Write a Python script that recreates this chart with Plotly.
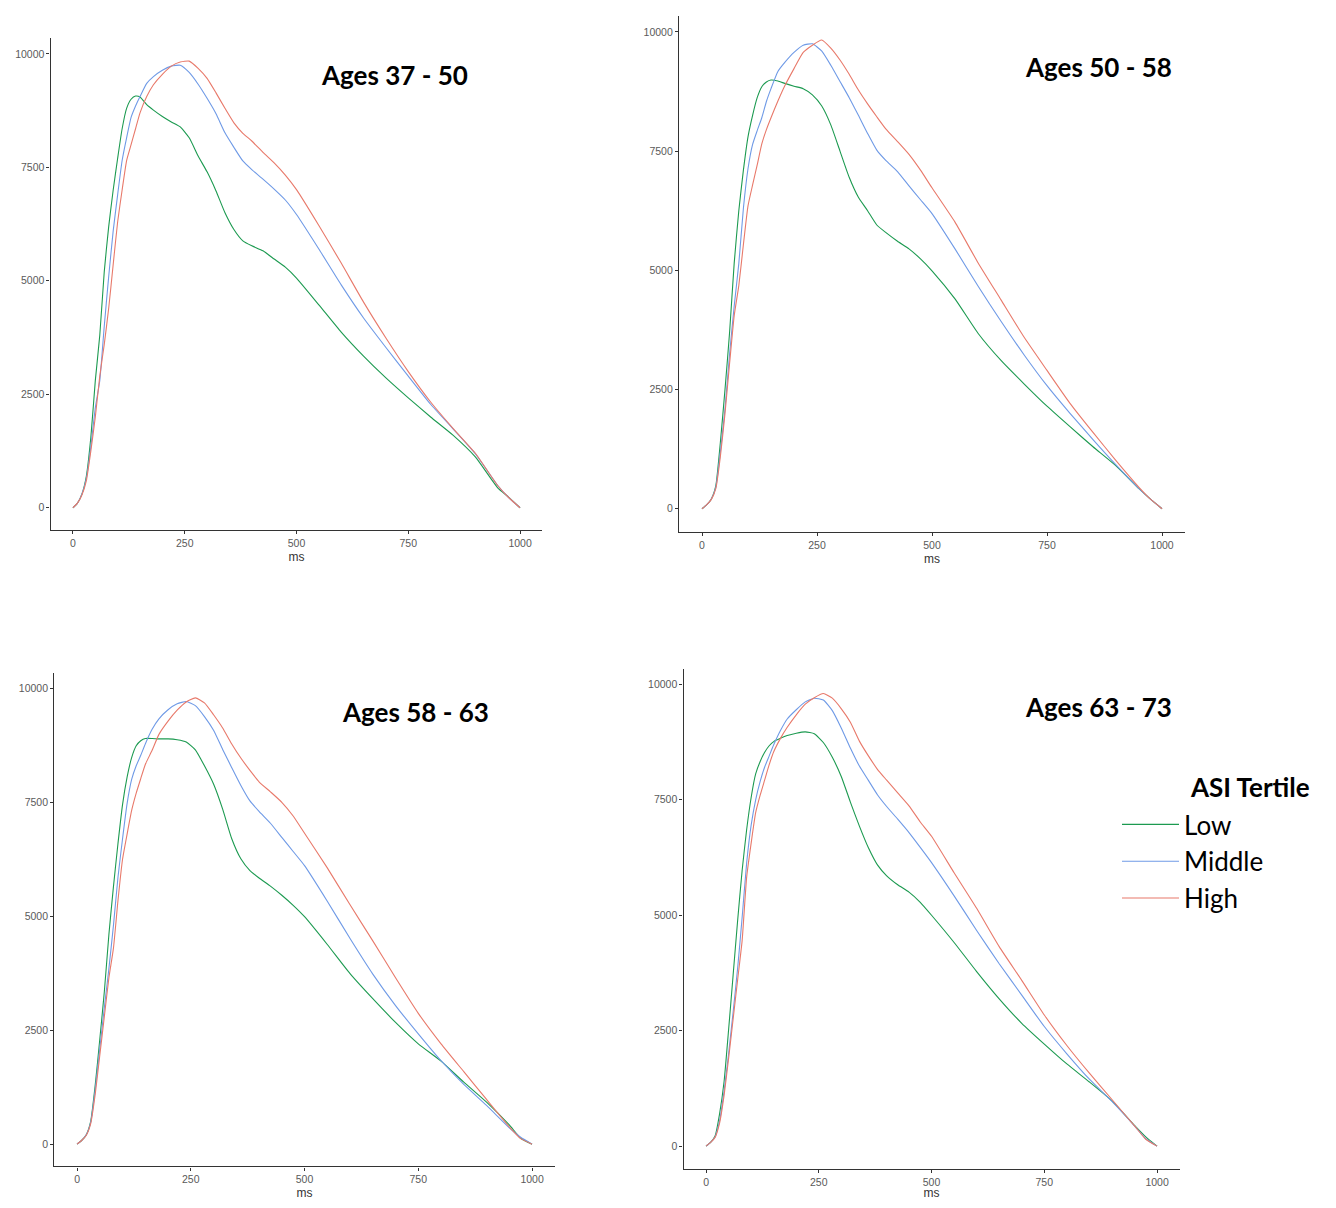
import plotly.graph_objects as go

# ---------------- data ----------------
ms = [0, 10, 20, 30, 40, 50, 60, 70, 80, 90, 100, 110, 120, 130, 140, 150, 165, 180,
      200, 220, 240, 260, 280, 300, 320, 340, 360, 380, 400, 425, 450, 475, 500,
      550, 600, 650, 700, 750, 800, 850, 900, 950, 975, 1000]

panel_titles = ["Ages 37 - 50", "Ages 50 - 58", "Ages 58 - 63", "Ages 63 - 73"]
tertiles = ["Low", "Middle", "High"]
legend_title = "ASI Tertile"

# Ages 37 - 50
p1_low = [0, 100, 300, 700, 1550, 2800, 3800, 5200, 6200, 7000, 7700, 8350, 8800, 9000, 9070, 9050, 8880, 8760,
          8620, 8500, 8390, 8150, 7750, 7400, 6980, 6500, 6130, 5880, 5770, 5660, 5480, 5300, 5060,
          4470, 3870, 3340, 2860, 2420, 2000, 1600, 1120, 440, 230, 0]
p1_mid = [0, 100, 300, 650, 1350, 2200, 2800, 4000, 5100, 6100, 6900, 7650, 8150, 8600, 8850, 9060, 9350, 9500,
          9640, 9730, 9750, 9590, 9330, 9020, 8680, 8260, 7940, 7640, 7450, 7240, 7020, 6780, 6460,
          5700, 4910, 4180, 3530, 2900, 2280, 1740, 1190, 490, 220, 0]
p1_high = [0, 100, 280, 600, 1250, 2000, 2900, 3600, 4400, 5360, 6300, 7000, 7650, 8000, 8350, 8700, 9060, 9320,
           9550, 9730, 9820, 9840, 9680, 9460, 9140, 8800, 8480, 8250, 8080, 7830, 7600, 7330, 7010,
           6220, 5390, 4530, 3740, 3000, 2330, 1750, 1200, 490, 220, 0]

# Ages 50 - 58
p2_low = [0, 80, 200, 480, 1400, 2500, 3700, 5150, 6250, 7100, 7800, 8250, 8620, 8850, 8950, 8990, 8970, 8920,
          8860, 8810, 8680, 8450, 8050, 7500, 6950, 6530, 6250, 5950, 5790, 5610, 5450, 5240, 4990,
          4400, 3680, 3110, 2620, 2150, 1720, 1300, 900, 420, 200, 0]
p2_mid = [0, 80, 200, 450, 1200, 2100, 3250, 4250, 5140, 6300, 7130, 7640, 7930, 8200, 8540, 8810, 9170, 9360,
          9570, 9720, 9750, 9600, 9300, 8960, 8620, 8250, 7870, 7520, 7300, 7070, 6770, 6480, 6190,
          5450, 4670, 3930, 3230, 2580, 2000, 1450, 920, 420, 200, 0]
p2_high = [0, 80, 190, 420, 1100, 2000, 3050, 4050, 4680, 5540, 6350, 6790, 7210, 7650, 7950, 8200, 8550, 8870,
           9230, 9570, 9720, 9830, 9660, 9410, 9110, 8780, 8490, 8220, 7960, 7700, 7430, 7100, 6730,
           6010, 5160, 4380, 3600, 2900, 2210, 1600, 1010, 450, 200, 0]

# Ages 58 - 63
p3_low = [0, 80, 200, 500, 1300, 2300, 3350, 4600, 5650, 6600, 7450, 8050, 8480, 8740, 8850, 8900, 8900, 8890,
          8890, 8870, 8820, 8650, 8300, 7900, 7350, 6700, 6260, 6000, 5840, 5660, 5460, 5240, 4990,
          4380, 3740, 3190, 2670, 2200, 1820, 1360, 920, 420, 130, 0]
p3_mid = [0, 80, 200, 480, 1200, 2100, 3000, 3850, 4800, 5860, 6700, 7470, 8000, 8300, 8530, 8780, 9100, 9330,
          9530, 9660, 9710, 9620, 9380, 9080, 8660, 8260, 7870, 7530, 7300, 7040, 6730, 6420, 6110,
          5330, 4510, 3730, 3040, 2420, 1830, 1310, 850, 360, 150, 0]
p3_high = [0, 80, 190, 450, 1100, 1950, 2800, 3650, 4300, 5350, 6250, 6800, 7320, 7700, 8020, 8330, 8640, 8990,
           9280, 9520, 9700, 9790, 9680, 9420, 9130, 8780, 8470, 8200, 7950, 7730, 7500, 7200, 6820,
           6060, 5250, 4460, 3650, 2870, 2200, 1590, 980, 380, 120, 0]

# Ages 63 - 73
p4_low = [0, 80, 220, 700, 1400, 2520, 3700, 4880, 5970, 6850, 7550, 8060, 8330, 8530, 8670, 8760, 8830, 8890,
          8940, 8970, 8930, 8740, 8420, 8000, 7450, 6930, 6460, 6090, 5860, 5660, 5500, 5280, 5000,
          4410, 3780, 3190, 2660, 2210, 1780, 1390, 980, 450, 200, 0]
p4_mid = [0, 80, 200, 550, 1200, 2000, 2900, 3850, 4950, 6130, 6950, 7500, 7900, 8210, 8450, 8690, 9000, 9250,
          9450, 9620, 9700, 9660, 9430, 9050, 8620, 8230, 7920, 7610, 7360, 7080, 6790, 6470, 6140,
          5420, 4670, 3950, 3270, 2590, 2000, 1450, 970, 440, 160, 0]
p4_high = [0, 80, 190, 500, 1100, 1900, 2750, 3600, 4450, 5820, 6560, 7220, 7600, 7930, 8260, 8540, 8830, 9070,
           9340, 9570, 9710, 9800, 9700, 9470, 9180, 8770, 8450, 8160, 7930, 7650, 7370, 7020, 6710,
           5920, 5150, 4320, 3590, 2840, 2180, 1580, 1010, 440, 150, 0]

panels = [
    [p1_low, p1_mid, p1_high],
    [p2_low, p2_mid, p2_high],
    [p3_low, p3_mid, p3_high],
    [p4_low, p4_mid, p4_high],
]

x_ticks = [0, 250, 500, 750, 1000]
y_ticks = [0, 2500, 5000, 7500, 10000]

# ---------------- style ----------------
colors = {"Low": "#1c9a50", "Middle": "#6f9ae6", "High": "#e8796a"}
OFF = 8  # page body margin
W, H = 1320, 1192
# screen pixel boxes of each panel (left, right, top, bottom)
boxes = [
    (50.6, 542.4, 38.5, 531.3),
    (679.0, 1185.0, 15.7, 533.4),
    (54.3, 554.8, 674.5, 1169.4),
    (683.5, 1179.6, 670.3, 1171.7),
]
title_pos = [(394, 75), (1098, 67), (415, 714), (1098, 709)]
x_range = [-50, 1050]
y_range = [-490, 10340]


def fx(px):
    return (px - OFF) / W


def fy(py):
    return 1 - (py - OFF) / H


fig = go.Figure()
layout = dict(
    width=W, height=H,
    margin=dict(l=0, r=0, t=0, b=0),
    paper_bgcolor="white", plot_bgcolor="white",
    showlegend=True,
    font=dict(family="Liberation Sans, Arial, sans-serif", color="#4d4d4d"),
)

annotations = []
for i, series in enumerate(panels):
    k = "" if i == 0 else str(i + 1)
    l, r, t, b = boxes[i]
    for name, vals in zip(tertiles, series):
        fig.add_trace(go.Scatter(
            x=ms, y=vals, mode="lines", name=name,
            line=dict(color=colors[name], width=1.1, shape="spline", smoothing=0.5),
            xaxis="x" + k, yaxis="y" + k,
            showlegend=(i == 0),
        ))
    layout["xaxis" + k] = dict(
        domain=[fx(l), fx(r)], anchor="y" + k, range=x_range,
        tickvals=x_ticks, ticktext=[str(v) for v in x_ticks],
        showline=True, linecolor="#333333", linewidth=1.3,
        ticks="outside", ticklen=3, tickcolor="#333333", tickwidth=1,
        showgrid=False, zeroline=False,
        tickfont=dict(size=10.5, color="#5a5a5a"),
        title=dict(text="ms", font=dict(size=12, color="#333333"), standoff=4),
    )
    layout["yaxis" + k] = dict(
        domain=[fy(b), fy(t)], anchor="x" + k, range=y_range,
        tickvals=y_ticks, ticktext=[str(v) for v in y_ticks],
        showline=True, linecolor="#333333", linewidth=1.3,
        ticks="outside", ticklen=3, tickcolor="#333333", tickwidth=1,
        showgrid=False, zeroline=False,
        tickfont=dict(size=10.5, color="#5a5a5a"),
    )
    tx, ty = title_pos[i]
    annotations.append(dict(
        text="<b>" + panel_titles[i] + "</b>", xref="paper", yref="paper",
        x=fx(tx), y=fy(ty), xanchor="center", yanchor="middle",
        showarrow=False, font=dict(family="Lato, sans-serif", size=26, color="#000000"),
    ))

annotations.append(dict(
    text="<b>" + legend_title + "</b>", xref="paper", yref="paper",
    x=fx(1188), y=fy(789), xanchor="left", yanchor="middle",
    showarrow=False, font=dict(family="Lato, sans-serif", size=26, color="#000000"),
))

layout["annotations"] = annotations
layout["legend"] = dict(
    x=fx(1117), y=fy(803), xanchor="left", yanchor="top",
    font=dict(family="Lato, sans-serif", size=26, color="#000000"),
    itemwidth=57, tracegroupgap=0, bgcolor="rgba(0,0,0,0)",
)
fig.update_layout(**layout)
fig.write_html("out.html")
